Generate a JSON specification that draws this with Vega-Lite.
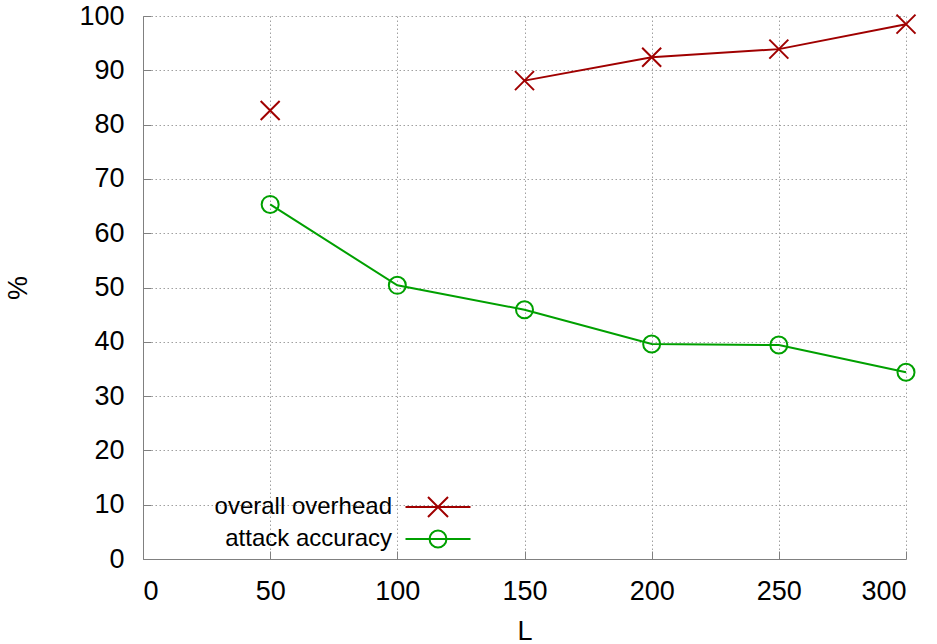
{
  "$schema": "https://vega.github.io/schema/vega-lite/v6.json",
  "width": 763,
  "height": 543,
  "autosize": {"type": "none"},
  "padding": {"left": 143, "top": 16, "right": 31, "bottom": 85},
  "background": "white",
  "config": {
    "view": {"stroke": null},
    "font": "Liberation Sans",
    "axis": {
      "domainColor": "#808080",
      "domainWidth": 1,
      "tickColor": "#808080",
      "tickWidth": 1,
      "tickSize": -8,
      "labelFontSize": 27,
      "labelColor": "#000000",
      "labelFont": "Liberation Sans",
      "titleFontSize": 27,
      "titleFontWeight": "normal",
      "titleColor": "#000000",
      "titleFont": "Liberation Sans",
      "gridColor": "#a0a0a0",
      "gridDash": [1.5, 2.5],
      "gridWidth": 1
    }
  },
  "data": {
    "values": [
      {"series": "overall overhead", "L": 50, "value": 82.6},
      {"series": "overall overhead", "L": 100, "value": null},
      {"series": "overall overhead", "L": 150, "value": 88.1},
      {"series": "overall overhead", "L": 200, "value": 92.4},
      {"series": "overall overhead", "L": 250, "value": 93.9},
      {"series": "overall overhead", "L": 300, "value": 98.5},
      {"series": "attack accuracy", "L": 50, "value": 65.3},
      {"series": "attack accuracy", "L": 100, "value": 50.4},
      {"series": "attack accuracy", "L": 150, "value": 45.9},
      {"series": "attack accuracy", "L": 200, "value": 39.6},
      {"series": "attack accuracy", "L": 250, "value": 39.4},
      {"series": "attack accuracy", "L": 300, "value": 34.4}
    ]
  },
  "encoding": {
    "x": {
      "field": "L",
      "type": "quantitative",
      "scale": {"domain": [0, 300], "nice": false, "zero": false},
      "axis": {
        "values": [0, 50, 100, 150, 200, 250, 300],
        "title": "L",
        "labelPadding": 27,
        "titlePadding": 14
      }
    },
    "y": {
      "field": "value",
      "type": "quantitative",
      "scale": {"domain": [0, 100], "nice": false},
      "axis": {
        "values": [0, 10, 20, 30, 40, 50, 60, 70, 80, 90, 100],
        "title": "%",
        "labelPadding": 27,
        "titlePadding": 46
      }
    },
    "color": {
      "field": "series",
      "type": "nominal",
      "scale": {
        "domain": ["overall overhead", "attack accuracy"],
        "range": ["#a00000", "#00a000"]
      },
      "legend": {
        "orient": "none",
        "legendX": 281,
        "legendY": 477,
        "title": null,
        "labelFontSize": 24,
        "labelFont": "Liberation Sans",
        "labelColor": "#000000",
        "labelAlign": "right",
        "labelOffset": -60,
        "labelLimit": 400,
        "symbolSize": 676,
        "symbolStrokeWidth": 2,
        "symbolFillColor": "transparent",
        "rowPadding": 3,
        "encode": {
          "symbols": {
            "update": {
              "shape": {
                "signal": "datum.value === 'overall overhead' ? 'M-2.5,0L2.5,0M-0.77,-0.77L0.77,0.77M-0.77,0.77L0.77,-0.77' : 'M-2.5,0L2.5,0M-0.65,0A0.65,0.65 0 1,0 0.65,0A0.65,0.65 0 1,0 -0.65,0'"
              },
              "fill": {"value": "transparent"},
              "strokeWidth": {"value": 2}
            }
          }
        }
      }
    }
  },
  "layer": [
    {
      "mark": {"type": "line", "strokeWidth": 2, "invalid": "break-paths-show-domains"}
    },
    {
      "transform": [{"filter": "datum.series === 'overall overhead' && isValid(datum.value)"}],
      "mark": {
        "type": "point",
        "filled": false,
        "strokeWidth": 2,
        "opacity": 1,
        "size": 400,
        "shape": "M-0.95,-0.95L0.95,0.95M-0.95,0.95L0.95,-0.95"
      }
    },
    {
      "transform": [{"filter": "datum.series === 'attack accuracy' && isValid(datum.value)"}],
      "mark": {
        "type": "point",
        "filled": false,
        "strokeWidth": 2,
        "opacity": 1,
        "size": 400,
        "shape": "M-0.85,0A0.85,0.85 0 1,0 0.85,0A0.85,0.85 0 1,0 -0.85,0"
      }
    }
  ]
}
